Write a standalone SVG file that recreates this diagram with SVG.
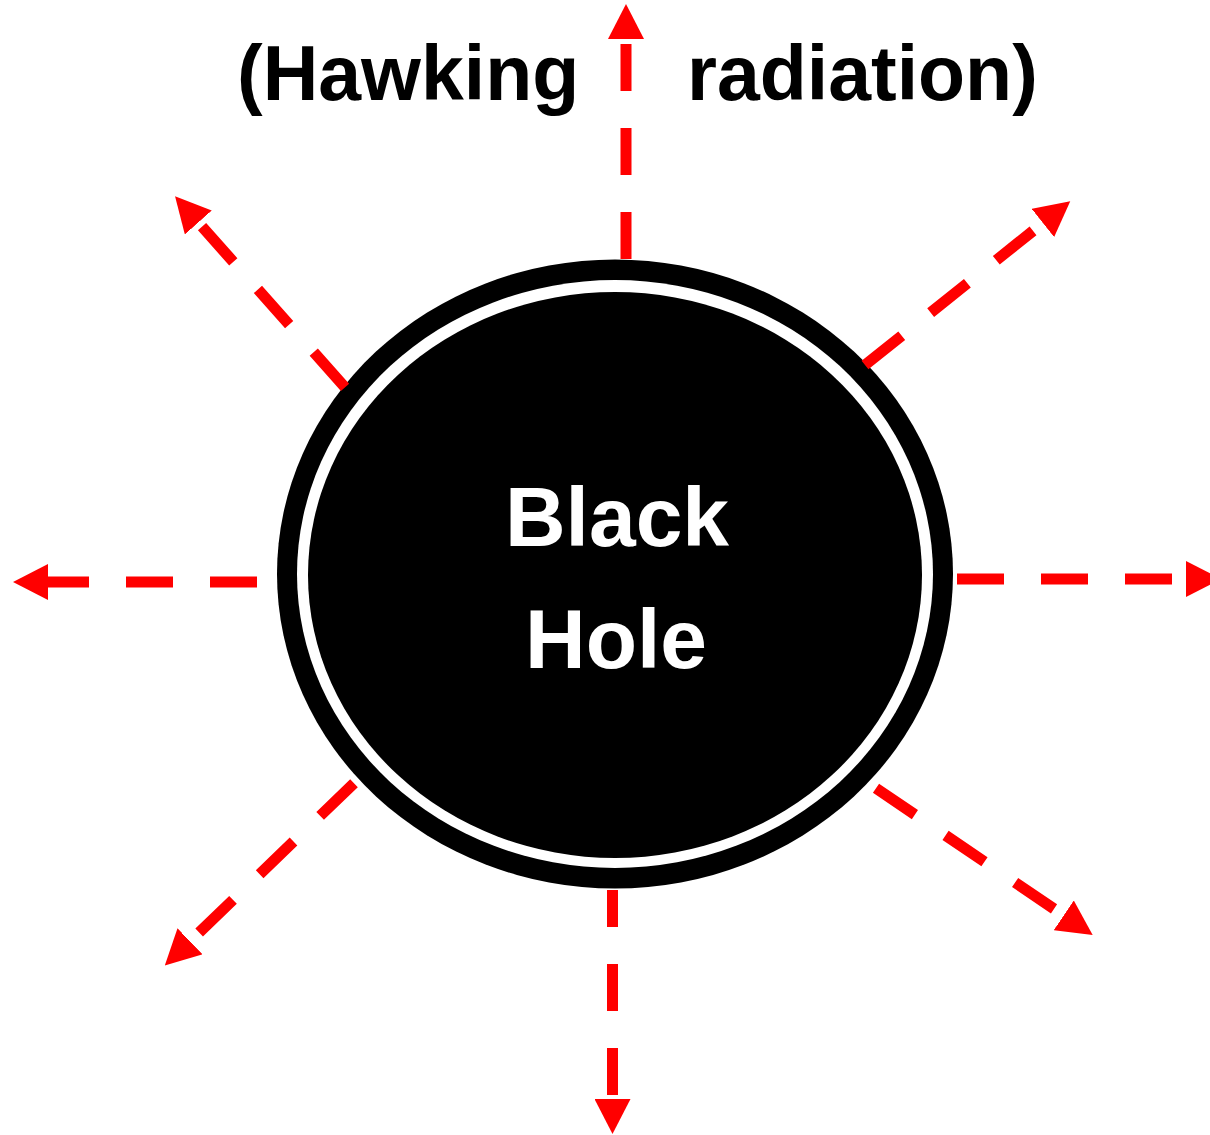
<svg xmlns="http://www.w3.org/2000/svg" width="1210" height="1135" viewBox="0 0 1210 1135">
  <style>
    .ray { fill: none; stroke: #ff0000; stroke-width: 11; stroke-dasharray: 47 37; marker-end: url(#head); }
    .title { font-family: "Liberation Sans", Arial, sans-serif; font-weight: bold; font-size: 77px; fill: #000000; }
    .label { font-family: "Liberation Sans", Arial, sans-serif; font-weight: bold; font-size: 84px; fill: #ffffff; text-anchor: middle; }
  </style>
  <defs>
    <marker id="head" markerUnits="userSpaceOnUse" viewBox="0 0 35 36" markerWidth="35" markerHeight="36" refX="0" refY="18" orient="auto">
      <path d="M0,0 L35,18 L0,36 z" fill="#ff0000"/>
    </marker>
  </defs>
  <rect width="1210" height="1135" fill="#ffffff"/>
  <g id="title">
    <text class="title" y="100"><tspan x="237">(Hawking</tspan><tspan x="687">radiation)</tspan></text>
  </g>
  <g id="black-hole">
    <ellipse cx="615" cy="574" rx="338" ry="314.5" fill="#000000"/>
    <ellipse cx="615" cy="574" rx="318" ry="294" fill="#ffffff"/>
    <ellipse cx="615" cy="575" rx="307" ry="283" fill="#000000"/>
    <text class="label" x="617" y="546">Black</text>
    <text class="label" x="616" y="668">Hole</text>
  </g>
  <g id="connectors">
    <path class="ray" d="M626,259 L626,39"/>
    <path class="ray" d="M257,582 L48,582"/>
    <path class="ray" d="M957,579 L1186,579"/>
    <path class="ray" d="M612.5,890 L612.5,1099" stroke-dashoffset="10"/>
    <path class="ray" d="M345,387.3 L198.3,222.5"/>
    <path class="ray" d="M865,365 L1042.9,223"/>
    <path class="ray" d="M354,783.3 L190,941.3"/>
    <path class="ray" d="M876,788.3 L1063.7,915.4"/>
  </g>
</svg>
